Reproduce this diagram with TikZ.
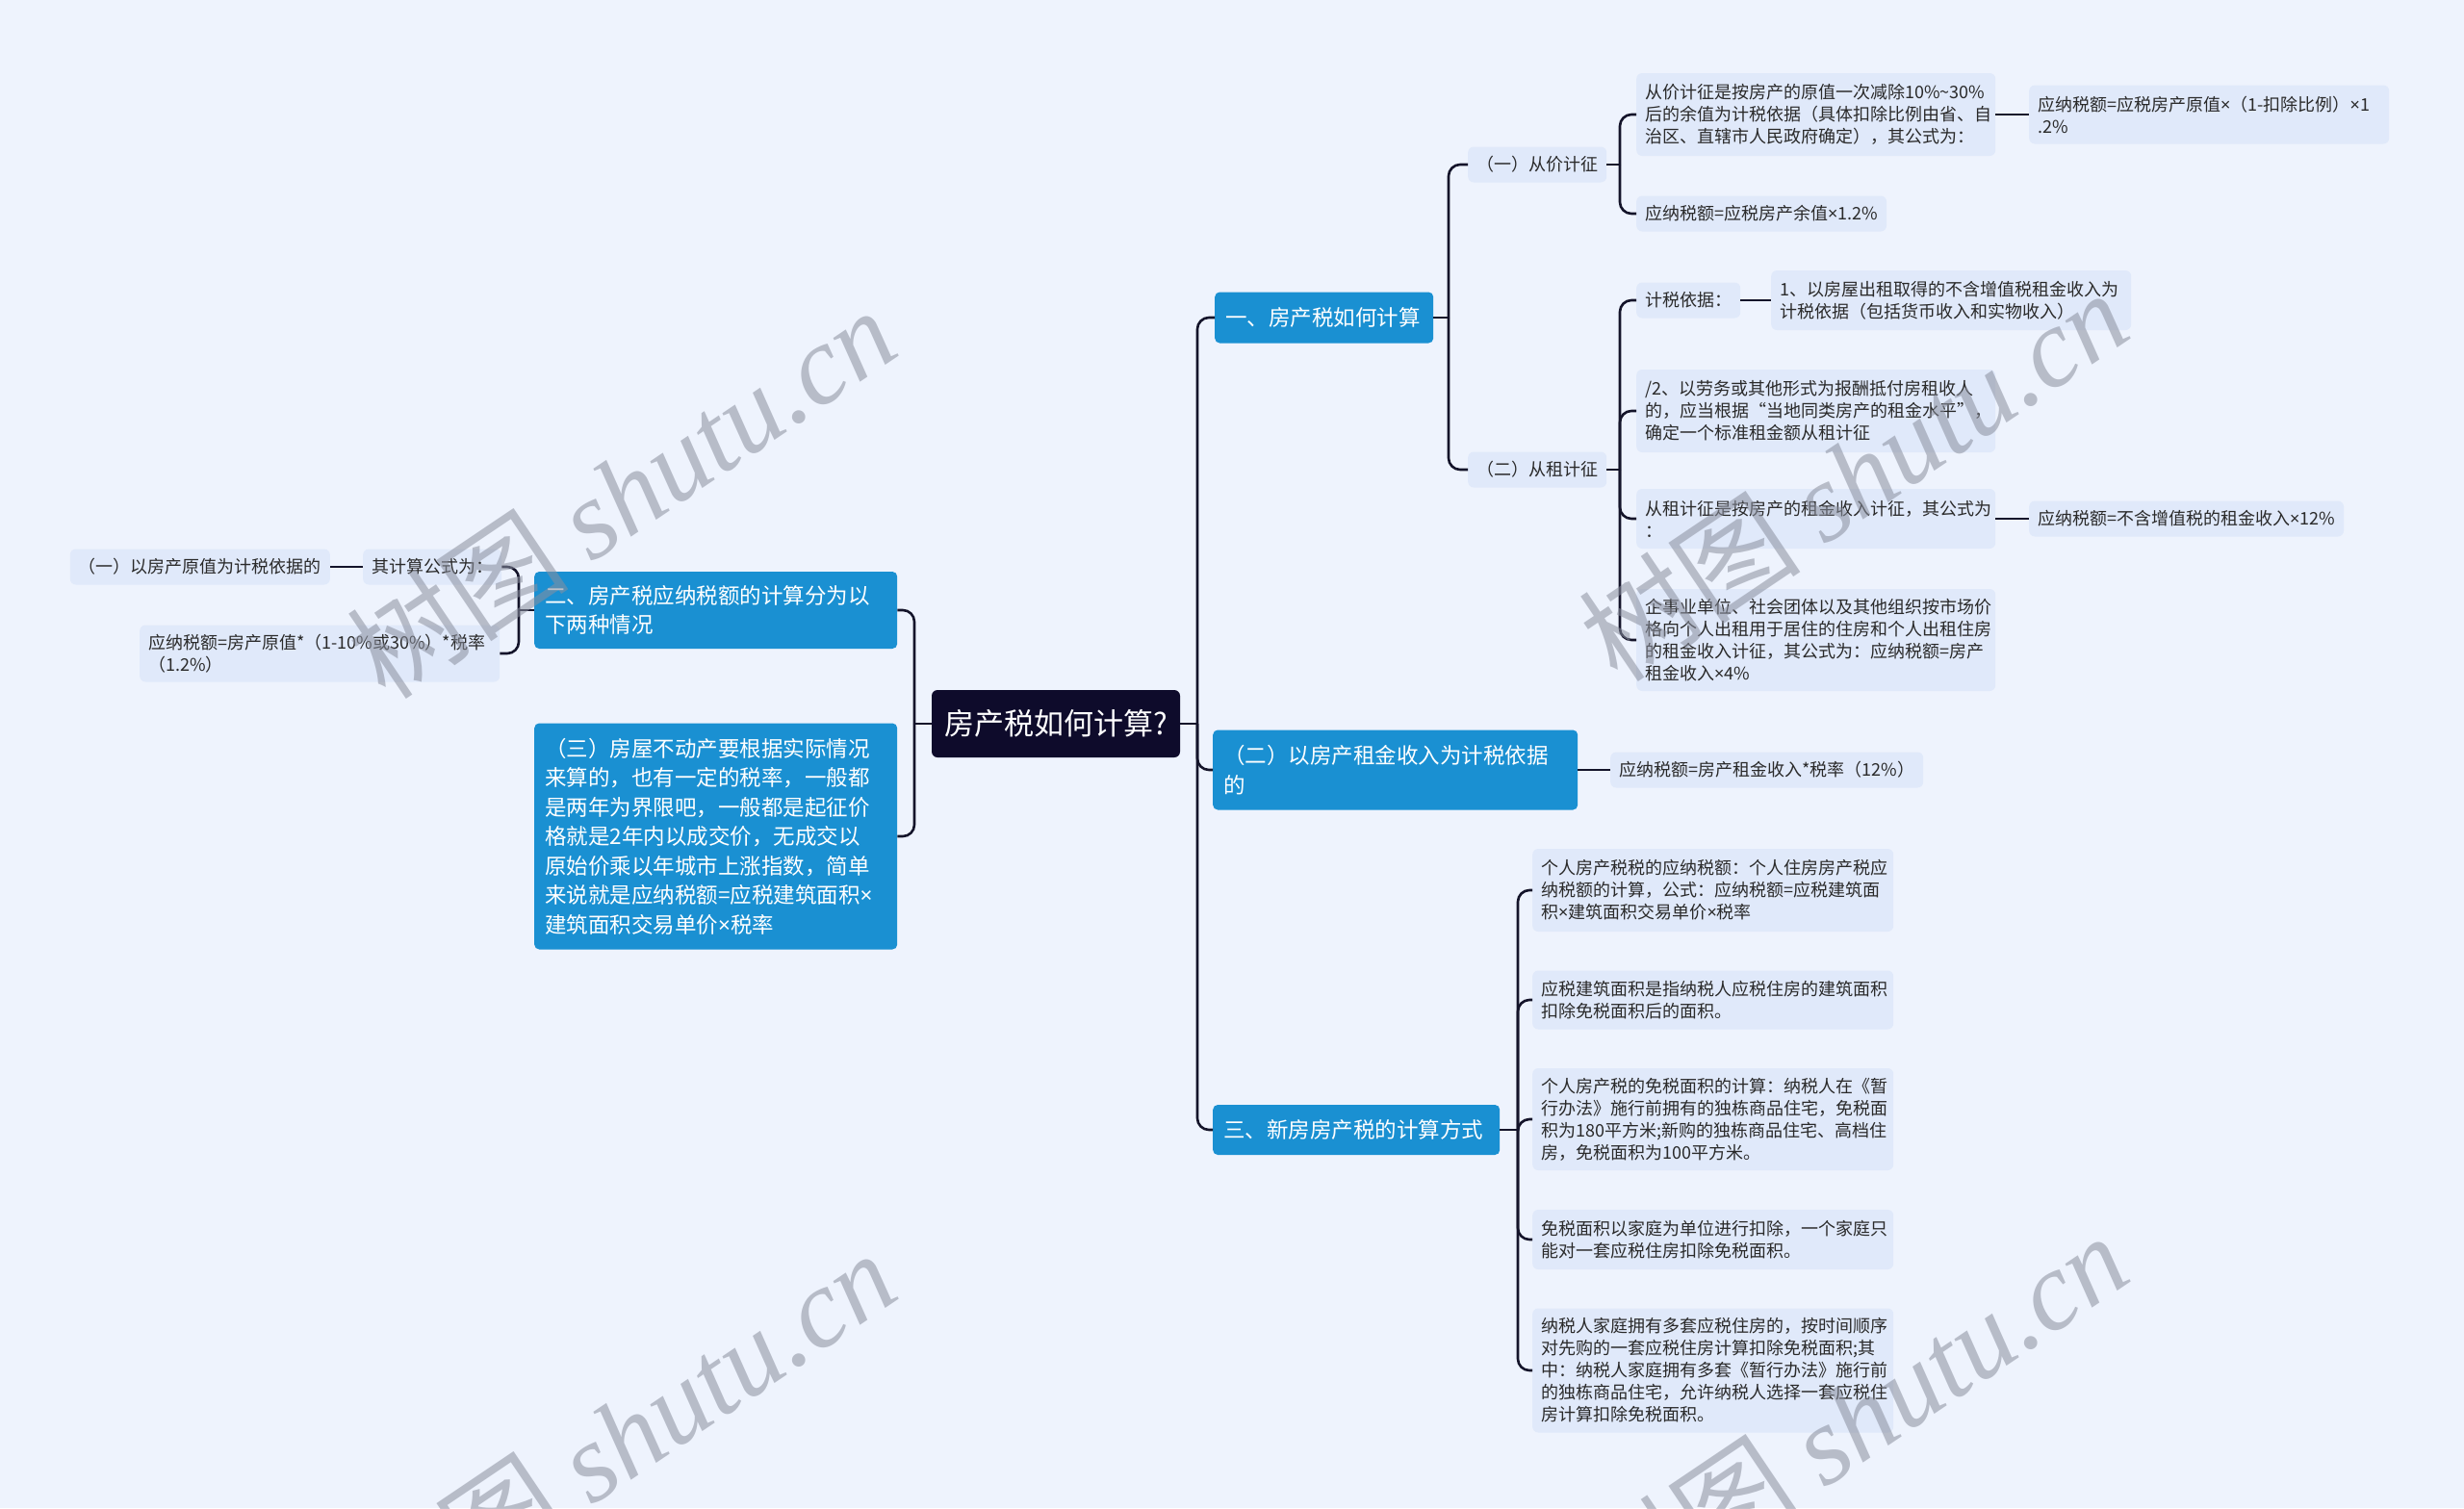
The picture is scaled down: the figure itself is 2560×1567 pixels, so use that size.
\documentclass[tikz,border=0pt]{standalone}
\usepackage{fontspec}
\setmainfont{Noto Sans CJK SC}
\newfontfamily\wmlat{Liberation Serif}
\newfontfamily\wmcjk{Noto Sans CJK SC}
\newfontfamily\latinf{Noto Sans}
\newcommand\tms{{\latinf ×}}
\exhyphenpenalty=10000
\hyphenpenalty=10000
\definecolor{bgc}{HTML}{EEF3FD}
\definecolor{leafc}{HTML}{E0E9FA}
\definecolor{bluec}{HTML}{1A90D2}
\definecolor{rootc}{HTML}{0E0B2B}
\definecolor{linec}{HTML}{14142A}
\definecolor{textc}{HTML}{2A2A2A}
\definecolor{wmc}{HTML}{8A8F9E}
\newcommand\leaffont{\fontsize{18}{23}\selectfont}
\newcommand\bluefont{\fontsize{22.5}{30.5}\selectfont}
\newcommand\rootfont{\fontsize{31}{36}\selectfont}
\tikzset{
 conn/.style={draw=linec, line width=2.6pt, rounded corners=12pt},
 leaf/.style={fill=leafc, rounded corners=6pt, inner xsep=9pt, inner ysep=3pt, text=textc, font=\leaffont, align=left},
 leafw/.style 2 args={leaf, text width=#1, minimum height=#2},
 leafs/.style={leaf, minimum height=37pt},
 bluebox/.style 2 args={fill=bluec, rounded corners=5pt, inner xsep=11pt, inner ysep=3pt, text=white, font=\bluefont, align=left, text width=#1, minimum height=#2},
 rootbox/.style={fill=rootc, rounded corners=6pt, text=white, font=\rootfont, minimum width=258pt, minimum height=70pt, inner sep=0pt},
 wm/.style={text=wmc, text opacity=0.55, rotate=34, font=\fontsize{116}{120}\selectfont}
}
\begin{document}
\begin{tikzpicture}[x=1pt,y=-1pt]
\fill[bgc] (0,0) rectangle (2560,1567);
\useasboundingbox (0,0) rectangle (2560,1567);

% root and main branches
\node[rootbox] (R) at (1097,752) {房产税如何计算?};
\node[bluebox={205pt}{53pt}, anchor=west] (N1) at (1262,330) {一、房产税如何计算};
\node[bluebox={357pt}{83pt}, anchor=west] (N2) at (1260,800) {（二）以房产租金收入为计税依据\\的};
\node[bluebox={276pt}{52pt}, anchor=west] (N3) at (1260,1174) {三、新房房产税的计算方式};
\node[bluebox={355pt}{80pt}, anchor=west] (L1) at (555,634) {二、房产税应纳税额的计算分为以\\下两种情况};
\node[bluebox={355pt}{235pt}, anchor=west] (L2) at (555,869) {（三）房屋不动产要根据实际情况\\来算的，也有一定的税率，一般都\\是两年为界限吧，一般都是起征价\\格就是2年内以成交价，无成交以\\原始价乘以年城市上涨指数，简单\\来说就是应纳税额=应税建筑面积\tms\\建筑面积交易单价\tms 税率};

% branch one
\node[leafs, anchor=west] (A) at (1525,171) {（一）从价计征};
\node[leafs, anchor=west] (B) at (1525,488) {（二）从租计征};
\node[leafw={355pt}{86pt}, anchor=west] (A1) at (1700,119) {从价计征是按房产的原值一次减除10\%\textasciitilde30\%\\后的余值为计税依据（具体扣除比例由省、自\\治区、直辖市人民政府确定），其公式为：};
\node[leafs, anchor=west] (A2) at (1700,222) {应纳税额=应税房产余值\tms 1.2\%};
\node[leafw={356pt}{61pt}, anchor=west] (A1a) at (2108,119) {应纳税额=应税房产原值\tms（1-扣除比例）\tms 1\\.2\%};
\node[leafs, anchor=west] (B1) at (1700,312) {计税依据：};
\node[leafw={356pt}{62pt}, anchor=west] (B1a) at (1840,312) {1、以房屋出租取得的不含增值税租金收入为\\计税依据（包括货币收入和实物收入）};
\node[leafw={355pt}{86pt}, anchor=west] (B2) at (1700,427) {/2、以劳务或其他形式为报酬抵付房租收人\\的，应当根据“当地同类房产的租金水平”，\\确定一个标准租金额从租计征};
\node[leafw={355pt}{62pt}, anchor=west] (B3) at (1700,539) {从租计征是按房产的租金收入计征，其公式为\\：};
\node[leafs, anchor=west] (B3a) at (2108,539) {应纳税额=不含增值税的租金收入\tms 12\%};
\node[leafw={355pt}{106pt}, anchor=west] (B4) at (1700,665) {企事业单位、社会团体以及其他组织按市场价\\格向个人出租用于居住的住房和个人出租住房\\的租金收入计征，其公式为：应纳税额=房产\\租金收入\tms 4\%};

% branch two (rent)
\node[leafs, anchor=west] (N2a) at (1673,800) {应纳税额=房产租金收入*税率（12\%）};

% branch three
\node[leafw={357pt}{86pt}, anchor=west] (C1) at (1592,925) {个人房产税税的应纳税额：个人住房房产税应\\纳税额的计算，公式：应纳税额=应税建筑面\\积\tms 建筑面积交易单价\tms 税率};
\node[leafw={357pt}{61pt}, anchor=west] (C2) at (1592,1039) {应税建筑面积是指纳税人应税住房的建筑面积\\扣除免税面积后的面积。};
\node[leafw={357pt}{106pt}, anchor=west] (C3) at (1592,1163) {个人房产税的免税面积的计算：纳税人在《暂\\行办法》施行前拥有的独栋商品住宅，免税面\\积为180平方米;新购的独栋商品住宅、高档住\\房，免税面积为100平方米。};
\node[leafw={357pt}{62pt}, anchor=west] (C4) at (1592,1288) {免税面积以家庭为单位进行扣除，一个家庭只\\能对一套应税住房扣除免税面积。};
\node[leafw={357pt}{129pt}, anchor=west] (C5) at (1592,1424) {纳税人家庭拥有多套应税住房的，按时间顺序\\对先购的一套应税住房计算扣除免税面积;其\\中：纳税人家庭拥有多套《暂行办法》施行前\\的独栋商品住宅，允许纳税人选择一套应税住\\房计算扣除免税面积。};

% left side
\node[leafs, anchor=west] (LA) at (377,589) {其计算公式为：};
\node[leafs, anchor=east] (LAa) at (343,589) {（一）以房产原值为计税依据的};
\node[leafw={356pt}{59pt}, anchor=west] (LB) at (145,679) {应纳税额=房产原值*（1-10\%或30\%）*税率\\（1.2\%）};

% trunk positions
\coordinate (tR) at (1244,0);
\coordinate (tL) at (950,0);
\coordinate (t1) at (1505,0);
\coordinate (tAB) at (1683,0);
\coordinate (t3) at (1577,0);
\coordinate (tL1) at (539,0);

% connectors
\draw[conn] (R.east) -- (R.east -| tR);
\foreach \n in {N1,N2,N3} \draw[conn] (R.east -| tR) |- (\n.west);
\draw[conn] (R.west) -- (R.west -| tL);
\foreach \n in {L1,L2} \draw[conn] (R.west -| tL) |- (\n.east);
\draw[conn] (N1.east) -- (N1.east -| t1);
\foreach \n in {A,B} \draw[conn] (N1.east -| t1) |- (\n.west);
\draw[conn] (A.east) -- (A.east -| tAB);
\foreach \n in {A1,A2} \draw[conn] (A.east -| tAB) |- (\n.west);
\draw[conn] (B.east) -- (B.east -| tAB);
\foreach \n in {B1,B2,B3,B4} \draw[conn] (B.east -| tAB) |- (\n.west);
\draw[conn] (N3.east) -- (N3.east -| t3);
\foreach \n in {C1,C2,C3,C4,C5} \draw[conn] (N3.east -| t3) |- (\n.west);
\draw[conn] (L1.west) -- (L1.west -| tL1);
\foreach \n in {LA,LB} \draw[conn] (L1.west -| tL1) |- (\n.east);
\draw[conn] (A1.east) -- (A1a.west);
\draw[conn] (B1.east) -- (B1a.west);
\draw[conn] (B3.east) -- (B3a.west);
\draw[conn] (N2.east) -- (N2a.west);
\draw[conn] (LA.west) -- (LAa.east);

% watermarks
\node[wm] (W1) at (645,512) {{\wmcjk 树图} {\wmlat\itshape shutu.cn}};
\node[wm] (W2) at (1925,494) {{\wmcjk 树图} {\wmlat\itshape shutu.cn}};
\node[wm] (W3) at (645,1492) {{\wmcjk 树图} {\wmlat\itshape shutu.cn}};
\node[wm] (W4) at (1925,1474) {{\wmcjk 树图} {\wmlat\itshape shutu.cn}};
\end{tikzpicture}
\end{document}
